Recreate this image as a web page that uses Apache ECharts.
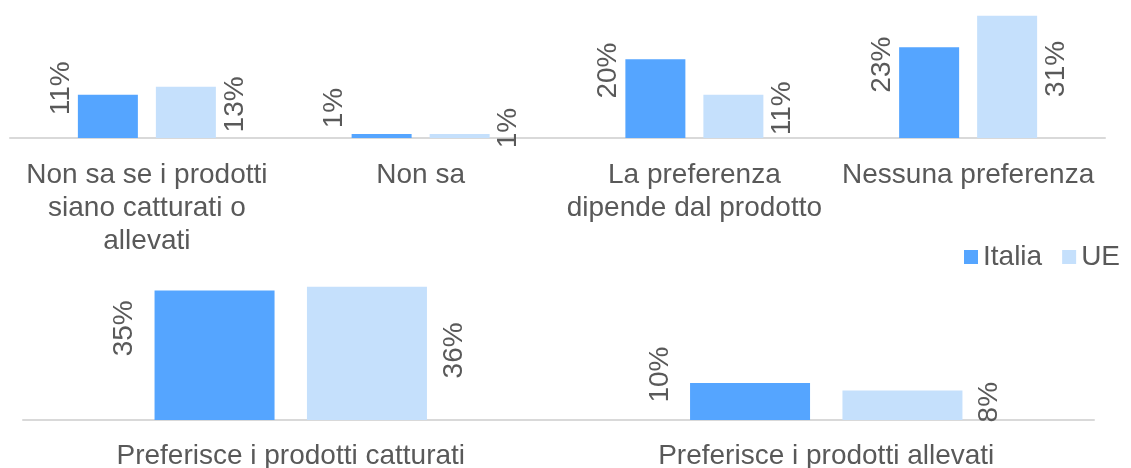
<!DOCTYPE html>
<html>
<head>
<meta charset="utf-8">
<script src="https://cdn.jsdelivr.net/npm/echarts@6/dist/echarts.min.js"></script>
<style>
html,body{margin:0;padding:0;background:#fff;}
#chart{width:1131px;height:468px;}
</style>
</head>
<body>
<div id="chart"></div>
<script>
const topCategories = ['Non sa se i prodotti\nsiano catturati o\nallevati', 'Non sa', 'La preferenza\ndipende dal prodotto', 'Nessuna preferenza'];
const topItalia = [11, 1, 20, 23];
const topUE = [13, 1, 11, 31];
const bottomCategories = ['Preferisce i prodotti catturati', 'Preferisce i prodotti allevati'];
const bottomItalia = [35, 10];
const bottomUE = [36, 8];
const seriesNames = ['Italia', 'UE'];

const colItalia = '#55A5FF';
const colUE = '#C5E0FC';
const txt = '#595959';
const font = 'Liberation Sans, Arial, sans-serif';
const fs = 28;

function lbl(side, dist, up) {
  return {
    show: true,
    position: side,
    distance: dist,
    rotate: 90,
    align: 'center',
    verticalAlign: side === 'left' ? 'bottom' : 'top',
    offset: [up, 0],
    formatter: '{c}%',
    fontSize: fs,
    color: txt,
    fontFamily: font
  };
}

const xAxisCommon = {
  type: 'category',
  axisTick: {show: false},
  axisLine: {lineStyle: {color: '#D9D9D9', width: 2}},
  axisLabel: {fontSize: fs, lineHeight: 33, color: txt, fontFamily: font, margin: 21, interval: 0}
};

const chart = echarts.init(document.getElementById('chart'));
chart.setOption({
  animation: false,
  textStyle: {fontFamily: font},
  legend: {
    data: seriesNames,
    left: 964, top: 243, padding: 0,
    itemWidth: 14, itemHeight: 14, itemGap: 20,
    icon: 'rect',
    textStyle: {fontSize: fs, color: txt, fontFamily: font}
  },
  grid: [
    {left: 10, right: 26, top: 0, height: 138, containLabel: false, outerBoundsMode: 'none'},
    {left: 23, right: 37, top: 272, height: 148, containLabel: false, outerBoundsMode: 'none'}
  ],
  xAxis: [
    Object.assign({}, xAxisCommon, {gridIndex: 0, data: topCategories}),
    Object.assign({}, xAxisCommon, {gridIndex: 1, data: bottomCategories,
      axisLabel: Object.assign({}, xAxisCommon.axisLabel, {margin: 20})})
  ],
  yAxis: [
    {type: 'value', gridIndex: 0, min: 0, max: 35, show: false, splitLine: {show: false}},
    {type: 'value', gridIndex: 1, min: 0, max: 40, show: false, splitLine: {show: false}}
  ],
  series: [
    {name: seriesNames[0], type: 'bar', xAxisIndex: 0, yAxisIndex: 0, data: topItalia,
     barWidth: 60, barGap: '30%', itemStyle: {color: colItalia}, label: lbl('left', 3, 28)},
    {name: seriesNames[1], type: 'bar', xAxisIndex: 0, yAxisIndex: 0, data: topUE,
     barWidth: 60, barGap: '30%', itemStyle: {color: colUE}, label: lbl('right', 5, 8)},
    {name: seriesNames[0], type: 'bar', xAxisIndex: 1, yAxisIndex: 1, data: bottomItalia,
     barWidth: 120, barGap: '27%', itemStyle: {color: colItalia}, label: lbl('left', 16, 27)},
    {name: seriesNames[1], type: 'bar', xAxisIndex: 1, yAxisIndex: 1, data: bottomUE,
     barWidth: 120, barGap: '27%', itemStyle: {color: colUE}, label: lbl('right', 13, 3)}
  ]
});
</script>
</body>
</html>
